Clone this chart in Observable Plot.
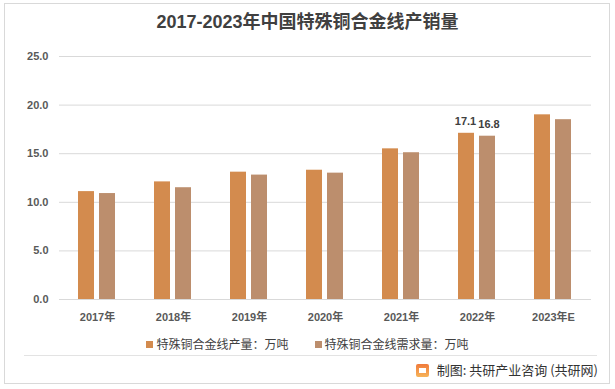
<!DOCTYPE html>
<html>
<head>
<meta charset="utf-8">
<script src="https://cdn.jsdelivr.net/npm/d3@7"></script>
<script src="https://cdn.jsdelivr.net/npm/@observablehq/plot@0.6"></script>
<style>
  html, body { margin: 0; padding: 0; background: #fff; }
  #wrap { position: relative; width: 615px; height: 389px; overflow: hidden; background: #fff;
          font-family: "Liberation Sans", "Noto Sans CJK SC", sans-serif; }
  #frame { position: absolute; left: 4px; top: 3px; width: 604px; height: 379px; border: 1px solid #d9d9d9; }
  #title { position: absolute; left: 0; width: 615px; top: 10px; text-align: center;
           font-family: "Liberation Sans", "Noto Sans CJK SC", sans-serif; font-weight: bold; font-size: 18px; color: #404040; line-height: 24px; }
  #chart { position: absolute; left: 0; top: 40px; }
  #legend { position: absolute; top: 336px; left: 0; width: 615px; display: flex; justify-content: center; gap: 26px;
            font-family: "Noto Sans CJK SC", sans-serif; font-size: 12px; color: #404040; line-height: 16px; }
  #legend .item { display: flex; align-items: center; }
  #legend .sw { width: 7px; height: 7px; margin-right: 3px; display: inline-block; }
  #sep { position: absolute; left: 24px; top: 355px; width: 573px; height: 0; border-top: 1px solid #e3e3e3; }
  #source { position: absolute; right: 17px; top: 361px; font-family: "Noto Sans CJK SC", sans-serif;
            font-size: 13px; color: #333; line-height: 18px; display: flex; align-items: center; }
  #logo { display: inline-block; width: 13px; height: 13px; margin-right: 8px; border-radius: 2px;
          background: linear-gradient(180deg, #f07a3a, #f7b45a); position: relative; }
  #logo::after { content: ""; position: absolute; left: 3px; top: 4px; width: 7px; height: 5px; background: #fff; }
</style>
</head>
<body>
<div id="wrap">
  <div id="frame"></div>
  <div id="title">2017-2023年中国特殊铜合金线产销量</div>
  <div id="chart"></div>
  <div id="legend"></div>
  <div id="sep"></div>
  <div id="source"><span id="logo"></span>制图: 共研产业咨询 (共研网)</div>
</div>
<script>
const years = ["2017年", "2018年", "2019年", "2020年", "2021年", "2022年", "2023年E"];
const production = [11.1, 12.1, 13.1, 13.3, 15.5, 17.1, 19.0];
const demand = [10.9, 11.5, 12.8, 13.0, 15.1, 16.8, 18.5];
const seriesNames = ["特殊铜合金线产量：万吨", "特殊铜合金线需求量：万吨"];
const seriesColors = ["#D38B4E", "#BC8E6D"];
const yTicks = [0, 5, 10, 15, 20, 25];
const labeledYear = "2022年";

const data = [];
years.forEach((y, i) => {
  data.push({year: y, series: seriesNames[0], value: production[i]});
  data.push({year: y, series: seriesNames[1], value: demand[i]});
});

const labelStyle = {
  fx: "year", x: "series", y: "value", text: d => d.value.toFixed(1),
  dy: -12, fontSize: 11, fontWeight: "bold", fill: "#404040"
};

const chart = Plot.plot({
  width: 615,
  height: 290,
  marginTop: 16,
  marginBottom: 31,
  marginLeft: 58,
  marginRight: 23,
  style: {fontFamily: '"Liberation Sans", "Noto Sans CJK SC", sans-serif', fontSize: "11px", fontWeight: "bold", color: "#595959", background: "transparent", overflow: "visible"},
  fx: {domain: years, padding: 0, label: null, axis: "bottom", tickSize: 0, tickPadding: 14},
  x: {domain: seriesNames, paddingInner: 0.227, paddingOuter: 0.848, axis: null},
  y: {domain: [0, 25], ticks: yTicks, tickFormat: d => d.toFixed(1), tickSize: 0, tickPadding: 11, label: null},
  color: {domain: seriesNames, range: seriesColors},
  marks: [
    Plot.ruleY(yTicks, {stroke: "#d9d9d9", strokeWidth: 1}),
    Plot.barY(data, {fx: "year", x: "series", y: "value", fill: "series"}),
    Plot.text(data.filter(d => d.year === labeledYear && d.series === seriesNames[0]), {...labelStyle, dx: -1}),
    Plot.text(data.filter(d => d.year === labeledYear && d.series === seriesNames[1]), {...labelStyle, dx: 1.5})
  ]
});
document.getElementById("chart").appendChild(chart);

const legend = document.getElementById("legend");
seriesNames.forEach((name, i) => {
  const item = document.createElement("div");
  item.className = "item";
  const sw = document.createElement("span");
  sw.className = "sw";
  sw.style.background = seriesColors[i];
  item.appendChild(sw);
  item.appendChild(document.createTextNode(name));
  legend.appendChild(item);
});
</script>
</body>
</html>
